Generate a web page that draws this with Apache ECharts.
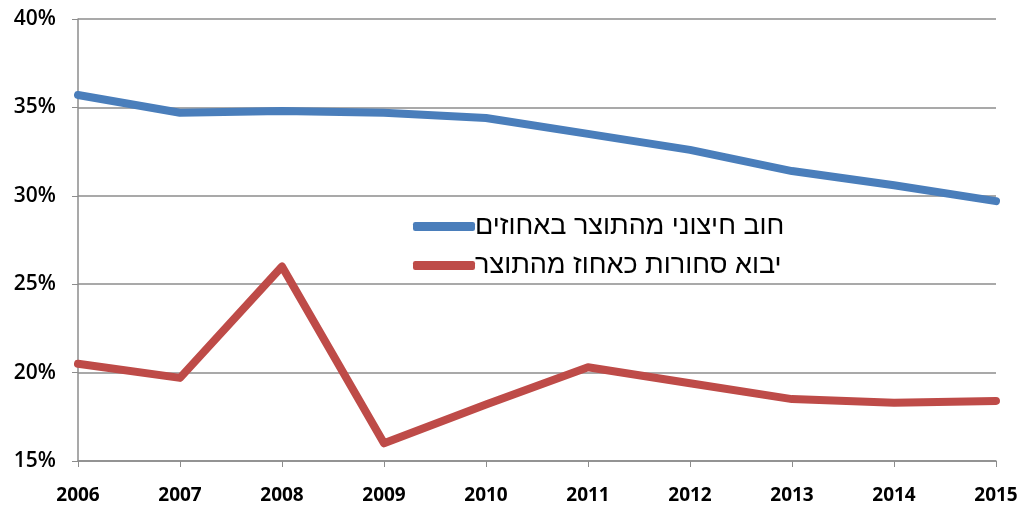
<!DOCTYPE html>
<html>
<head>
<meta charset="utf-8">
<script src="https://cdn.jsdelivr.net/npm/echarts@6/dist/echarts.min.js"></script>
<style>
html,body{margin:0;padding:0;background:#fff;}
#main{width:1025px;height:513px;}
</style>
</head>
<body>
<div id="main"></div>
<script>
// שנים
var years = ['2006','2007','2008','2009','2010','2011','2012','2013','2014','2015'];
// חוב חיצוני מהתוצר באחוזים
var debtPct = [35.7, 34.7, 34.8, 34.7, 34.4, 33.5, 32.6, 31.4, 30.6, 29.7];
// יבוא סחורות כאחוז מהתוצר
var importPct = [20.5, 19.7, 26.0, 16.0, 18.2, 20.3, 19.4, 18.5, 18.3, 18.4];
var seriesNames = ['חוב חיצוני מהתוצר באחוזים', 'יבוא סחורות כאחוז מהתוצר'];

var myChart = echarts.init(document.getElementById('main'));
var option = {
	animation: false,
	grid: { left: 78, right: 29, top: 19, bottom: 52 },
	legend: {
		orient: 'vertical',
		left: 408,
		top: 208,
		itemGap: 12,
		itemWidth: 62,
		itemHeight: 9,
		icon: 'roundRect',
		textStyle: { fontFamily: 'Liberation Sans', fontSize: 27, color: '#000', padding: [0, 0, 0, -5] },
		data: seriesNames
	},
	xAxis: {
		type: 'category',
		data: years,
		boundaryGap: false,
		axisLine: { lineStyle: { color: '#8c8c8c', width: 1.5 } },
		axisTick: { show: true, length: 6, lineStyle: { color: '#8c8c8c' } },
		axisLabel: { fontFamily: 'Open Sans', fontWeight: 'bold', fontSize: 19, color: '#000', margin: 25 }
	},
	yAxis: {
		type: 'value',
		min: 15,
		max: 40,
		interval: 5,
		axisLine: { show: true, lineStyle: { color: '#8c8c8c', width: 1.5 } },
		axisTick: { show: true, length: 6, lineStyle: { color: '#8c8c8c' } },
		splitLine: { lineStyle: { color: '#8c8c8c', width: 1.5 } },
		axisLabel: { formatter: '{value}%', fontFamily: 'Open Sans', fontWeight: 600, fontSize: 21, color: '#000', margin: 22 }
	},
	series: [
		{
			name: seriesNames[0],
			type: 'line',
			data: debtPct,
			symbol: 'none',
			color: '#4a7ebb',
			lineStyle: { width: 8, cap: 'round', join: 'round' }
		},
		{
			name: seriesNames[1],
			type: 'line',
			data: importPct,
			symbol: 'none',
			color: '#be4b48',
			lineStyle: { width: 8, cap: 'round', join: 'round' }
		}
	]
};
myChart.setOption(option);
</script>
</body>
</html>
